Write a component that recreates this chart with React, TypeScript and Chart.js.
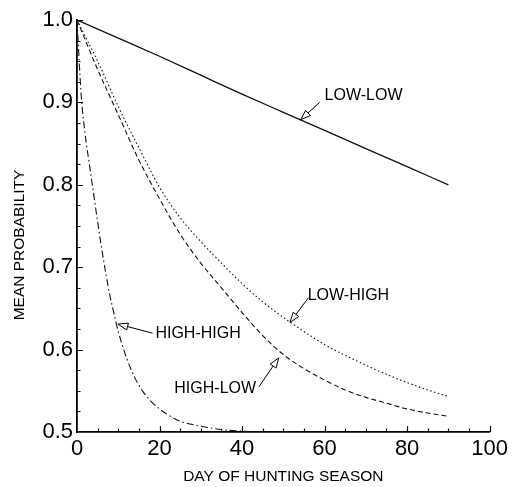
import React, { useEffect, useRef } from "react";
import { Chart, registerables } from "chart.js";

Chart.register(...registerables);

// ---- data ----
const xTickLabels = [0, 20, 40, 60, 80, 100];
const yTickLabels = [0.5, 0.6, 0.7, 0.8, 0.9, 1.0];

const lowLowDays = [0, 10, 20, 30, 40, 50, 60, 70, 80, 90];
const lowLowValues = [1.0, 0.978, 0.956, 0.933, 0.91, 0.888, 0.866, 0.844, 0.822, 0.8];

const fiveDayDays = [0, 5, 10, 15, 20, 25, 30, 35, 40, 45, 50, 55, 60, 65, 70, 75, 80, 85, 90];
const lowHighValues = [1.0, 0.95, 0.895, 0.845, 0.797, 0.76, 0.731, 0.705, 0.68, 0.658, 0.639, 0.622, 0.606, 0.593, 0.581, 0.57, 0.56, 0.551, 0.543];
const highLowValues = [1.0, 0.94, 0.885, 0.83, 0.783, 0.74, 0.705, 0.675, 0.645, 0.617, 0.594, 0.577, 0.563, 0.551, 0.542, 0.535, 0.528, 0.523, 0.519];

const highHighDays = [0, 1, 2, 3, 4, 5, 6, 7, 8, 9, 10, 12, 14, 16, 18, 20, 22, 25, 28, 30, 35, 40, 45];
const highHighValues = [1.0, 0.91, 0.86, 0.825, 0.79, 0.755, 0.722, 0.692, 0.665, 0.643, 0.622, 0.59, 0.566, 0.549, 0.537, 0.528, 0.521, 0.513, 0.509, 0.507, 0.503, 0.501, 0.5];

const seriesNames = ["LOW-LOW", "LOW-HIGH", "HIGH-LOW", "HIGH-HIGH"];

const FONT = "'Liberation Sans', Arial, Helvetica, sans-serif";

const pts = (xs: number[], ys: number[]) => xs.map((x, i) => ({ x, y: ys[i] }));

// annotation anchors in data coordinates
const annotations = [
  { text: seriesNames[0], tx: 60.0, ty: 0.908, align: "left", tail: [58.8, 0.9], tip: [54.2, 0.879] },
  { text: seriesNames[1], tx: 55.9, ty: 0.665, align: "left", tail: [56.1, 0.663], tip: [51.6, 0.633] },
  { text: seriesNames[2], tx: 43.4, ty: 0.553, align: "right", tail: [44.1, 0.555], tip: [48.9, 0.59] },
  { text: seriesNames[3], tx: 19.0, ty: 0.62, align: "left", tail: [18.3, 0.62], tip: [9.9, 0.631] },
];

const decorPlugin = {
  id: "decor",
  afterDraw(chart: any) {
    const ctx = chart.ctx as CanvasRenderingContext2D;
    const xs = chart.scales.x;
    const ys = chart.scales.y;
    const left = xs.left;
    const bottom = ys.bottom;
    ctx.save();
    ctx.setLineDash([]);
    ctx.strokeStyle = "#000";
    ctx.lineWidth = 1.2;
    ctx.beginPath();
    // inward ticks on x axis, every 5 days
    for (let k = 1; k <= 20; k++) {
      const px = Math.round(xs.getPixelForValue(k * 5)) + 0.5;
      const len = k % 4 === 0 ? 6 : 3.5;
      ctx.moveTo(px, bottom);
      ctx.lineTo(px, bottom - len);
    }
    // inward ticks on y axis, every 0.025
    for (let i = 1; i <= 20; i++) {
      const py = Math.round(ys.getPixelForValue(0.5 + i * 0.025)) + 0.5;
      const len = i % 4 === 0 ? 6 : 3.5;
      ctx.moveTo(left, py);
      ctx.lineTo(left + len, py);
    }
    ctx.stroke();

    // y axis title
    ctx.fillStyle = "#000";
    ctx.font = `15.5px ${FONT}`;
    ctx.textAlign = "center";
    ctx.textBaseline = "middle";
    ctx.save();
    ctx.translate(20, 245);
    ctx.rotate(-Math.PI / 2);
    ctx.fillText("MEAN PROBABILITY", 0, 0);
    ctx.restore();

    // annotations with hollow arrowheads
    ctx.font = `16px ${FONT}`;
    for (const a of annotations) {
      ctx.textAlign = a.align as CanvasTextAlign;
      ctx.textBaseline = "middle";
      ctx.fillText(a.text, xs.getPixelForValue(a.tx), ys.getPixelForValue(a.ty));
      const tx = xs.getPixelForValue(a.tail[0]);
      const ty = ys.getPixelForValue(a.tail[1]);
      const hx = xs.getPixelForValue(a.tip[0]);
      const hy = ys.getPixelForValue(a.tip[1]);
      const ang = Math.atan2(hy - ty, hx - tx);
      const headLen = 10;
      const half = 3.5;
      const bx = hx - headLen * Math.cos(ang);
      const by = hy - headLen * Math.sin(ang);
      ctx.lineWidth = 1;
      ctx.beginPath();
      ctx.moveTo(tx, ty);
      ctx.lineTo(bx, by);
      ctx.stroke();
      ctx.beginPath();
      ctx.moveTo(hx, hy);
      ctx.lineTo(bx + half * Math.sin(ang), by - half * Math.cos(ang));
      ctx.lineTo(bx - half * Math.sin(ang), by + half * Math.cos(ang));
      ctx.closePath();
      ctx.fillStyle = "#fff";
      ctx.fill();
      ctx.stroke();
      ctx.fillStyle = "#000";
    }
    ctx.restore();
  },
};

export default function App() {
  const ref = useRef<HTMLCanvasElement | null>(null);

  useEffect(() => {
    if (!ref.current) return;
    const common = {
      borderColor: "#111",
      backgroundColor: "#111",
      pointRadius: 0,
      fill: false,
      cubicInterpolationMode: "monotone" as const,
    };
    const chart = new Chart(ref.current, {
      type: "line",
      data: {
        datasets: [
          { ...common, label: seriesNames[0], data: pts(lowLowDays, lowLowValues), borderWidth: 1.3 },
          { ...common, label: seriesNames[1], data: pts(fiveDayDays, lowHighValues), borderWidth: 1.1, borderDash: [1.5, 2.5] },
          { ...common, label: seriesNames[2], data: pts(fiveDayDays, highLowValues), borderWidth: 1.1, borderDash: [5, 3] },
          { ...common, label: seriesNames[3], data: pts(highHighDays, highHighValues), borderWidth: 1.1, borderDash: [7, 3, 1.5, 3] },
        ],
      },
      options: {
        responsive: false,
        animation: false,
        devicePixelRatio: 1,
        layout: { autoPadding: false, padding: { top: 20, right: 20, left: 0, bottom: 0 } },
        plugins: { legend: { display: false }, tooltip: { enabled: false } },
        scales: {
          x: {
            type: "linear",
            min: 0,
            max: 100,
            afterBuildTicks: (s: any) => {
              s.ticks = xTickLabels.map((v) => ({ value: v }));
            },
            afterFit: (s: any) => {
              s.height = 55;
            },
            ticks: {
              color: "#000",
              font: { family: FONT, size: 22 },
              padding: 4,
              maxRotation: 0,
              autoSkip: false,
            },
            grid: { display: false, drawTicks: false },
            border: { display: true, color: "#000", width: 1.8 },
            title: {
              display: true,
              text: "DAY OF HUNTING SEASON",
              color: "#000",
              font: { family: FONT, size: 15.5 },
              padding: { top: 0, bottom: 1 },
            },
          },
          y: {
            type: "linear",
            min: 0.5,
            max: 1.0,
            afterBuildTicks: (s: any) => {
              s.ticks = yTickLabels.map((v) => ({ value: v }));
            },
            afterFit: (s: any) => {
              s.width = 77;
            },
            ticks: {
              color: "#000",
              font: { family: FONT, size: 22 },
              padding: 4,
              autoSkip: false,
              callback: (v: any) => Number(v).toFixed(1),
            },
            grid: { display: false, drawTicks: false },
            border: { display: true, color: "#000", width: 1.8 },
          },
        },
      },
      plugins: [decorPlugin],
    });
    return () => chart.destroy();
  }, []);

  return (
    <div style={{ position: "absolute", left: 0, top: 0, width: 512, height: 487, background: "#fff" }}>
      <canvas ref={ref} width={512} height={487} style={{ display: "block" }} />
    </div>
  );
}
